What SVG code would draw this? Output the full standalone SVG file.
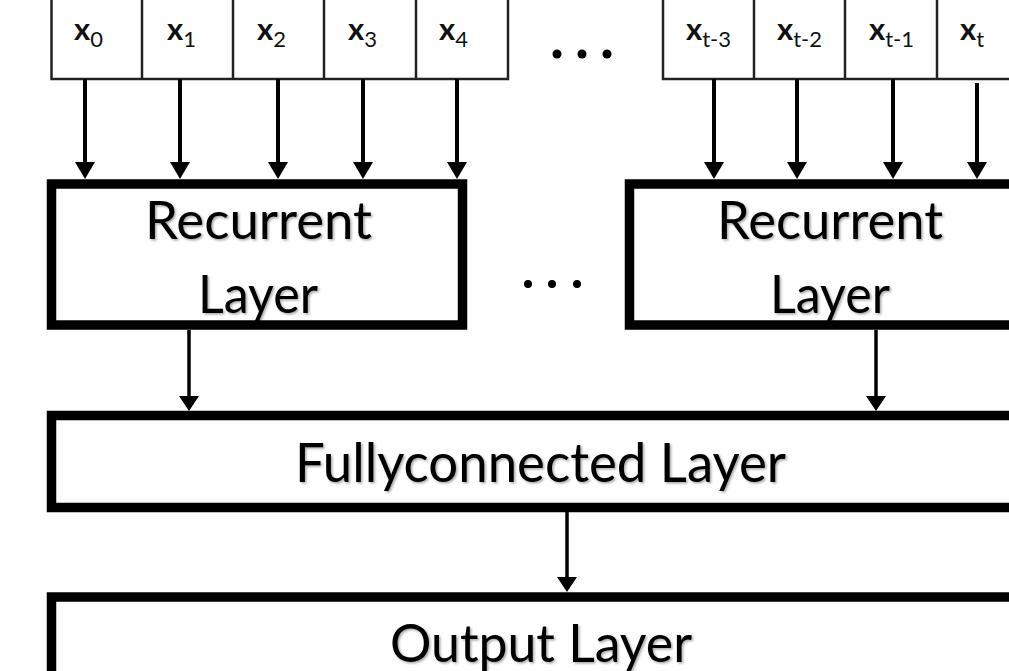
<svg xmlns="http://www.w3.org/2000/svg" width="1009" height="671" viewBox="0 0 1009 671">
<style>
  .cell{fill:#fff;stroke:#222;stroke-width:2.5}
  .div{stroke:#222;stroke-width:2.5}
  .layer{fill:#fff;stroke:#000;stroke-width:9.5}
  .xl{font-family:Lato,"Open Sans",sans-serif;font-weight:bold;font-size:31px;fill:#111}
  .sub{font-weight:normal;font-size:22px}
  .big{font-family:Lato,"Open Sans",sans-serif;font-size:52px;fill:#000;filter:url(#sh)}
  .arr{stroke:#000;fill:none}
  .a4{stroke-width:4;marker-end:url(#ah)}
  .a3{stroke-width:3.5;marker-end:url(#ah2)}
  .dot{fill:#000}
</style>
<defs>
  <filter id="sh" x="-5%" y="-20%" width="110%" height="140%">
    <feDropShadow dx="1.5" dy="1.5" stdDeviation="1.2" flood-color="#000" flood-opacity="0.35"/>
  </filter>
  <marker id="ah" markerUnits="userSpaceOnUse" markerWidth="18" markerHeight="20" refX="9" refY="10" orient="auto">
    <path d="M0,0 L17,10 L0,20 z" fill="#000"/>
  </marker>
  <marker id="ah2" markerUnits="userSpaceOnUse" markerWidth="16" markerHeight="20" refX="8" refY="10" orient="auto">
    <path d="M0,0 L15,10 L0,20 z" fill="#000"/>
  </marker>
</defs>
<rect width="1009" height="671" fill="#fff"/>

<g id="inputs-left">
  <rect class="cell" x="51.5" y="-10" width="456.5" height="89"/>
  <line class="div" x1="142" y1="-10" x2="142" y2="79"/>
  <line class="div" x1="233" y1="-10" x2="233" y2="79"/>
  <line class="div" x1="324" y1="-10" x2="324" y2="79"/>
  <line class="div" x1="416" y1="-10" x2="416" y2="79"/>
  <text class="xl" x="74" y="40">x<tspan class="sub" dy="7">0</tspan></text>
  <text class="xl" x="167" y="40">x<tspan class="sub" dy="7">1</tspan></text>
  <text class="xl" x="257" y="40">x<tspan class="sub" dy="7">2</tspan></text>
  <text class="xl" x="348" y="40">x<tspan class="sub" dy="7">3</tspan></text>
  <text class="xl" x="439" y="40">x<tspan class="sub" dy="7">4</tspan></text>
</g>

<g id="dots-top">
  <circle class="dot" cx="557" cy="54" r="4.5"/>
  <circle class="dot" cx="582" cy="54" r="4.5"/>
  <circle class="dot" cx="607" cy="54" r="4.5"/>
</g>

<g id="inputs-right">
  <rect class="cell" x="663" y="-10" width="380" height="89"/>
  <line class="div" x1="754" y1="-10" x2="754" y2="79"/>
  <line class="div" x1="845" y1="-10" x2="845" y2="79"/>
  <line class="div" x1="937" y1="-10" x2="937" y2="79"/>
  <text class="xl" x="686" y="40">x<tspan class="sub" dy="7">t-3</tspan></text>
  <text class="xl" x="777" y="40">x<tspan class="sub" dy="7">t-2</tspan></text>
  <text class="xl" x="869" y="40">x<tspan class="sub" dy="7">t-1</tspan></text>
  <text class="xl" x="960" y="40">x<tspan class="sub" dy="7">t</tspan></text>
</g>

<g id="recurrent-left">
  <rect class="layer" x="51.5" y="184" width="411" height="141"/>
  <text class="big" x="258.5" y="239" text-anchor="middle" textLength="227" lengthAdjust="spacingAndGlyphs">Recurrent</text>
  <text class="big" x="258" y="313" text-anchor="middle" textLength="120" lengthAdjust="spacingAndGlyphs">Layer</text>
</g>

<g id="dots-mid">
  <circle class="dot" cx="528" cy="284" r="4"/>
  <circle class="dot" cx="552" cy="284" r="4"/>
  <circle class="dot" cx="577" cy="284" r="4"/>
</g>

<g id="recurrent-right">
  <rect class="layer" x="629.5" y="184" width="420" height="141"/>
  <text class="big" x="830" y="239" text-anchor="middle" textLength="226" lengthAdjust="spacingAndGlyphs">Recurrent</text>
  <text class="big" x="830" y="313" text-anchor="middle" textLength="120" lengthAdjust="spacingAndGlyphs">Layer</text>
</g>

<g id="fullyconnected">
  <rect class="layer" x="51.5" y="415.5" width="1000" height="92"/>
  <text class="big" x="295" y="482" textLength="491" lengthAdjust="spacingAndGlyphs" style="font-size:54px">Fullyconnected Layer</text>
</g>

<g id="output">
  <rect class="layer" x="51.5" y="597" width="1000" height="120"/>
  <text class="big" x="390" y="662" textLength="302" lengthAdjust="spacingAndGlyphs" style="font-size:53px">Output Layer</text>
</g>

<g id="connectors">
  <line class="arr a4" x1="85" y1="79" x2="85" y2="171"/>
  <line class="arr a4" x1="180" y1="79" x2="180" y2="171"/>
  <line class="arr a4" x1="278" y1="79" x2="278" y2="171"/>
  <line class="arr a4" x1="363" y1="79" x2="363" y2="171"/>
  <line class="arr a4" x1="457" y1="79" x2="457" y2="171"/>
  <line class="arr a4" x1="714" y1="79" x2="714" y2="171"/>
  <line class="arr a4" x1="797" y1="79" x2="797" y2="171"/>
  <line class="arr a4" x1="893" y1="79" x2="893" y2="171"/>
  <line class="arr a4" x1="977" y1="83" x2="977" y2="171"/>
  <line class="arr a3" x1="189" y1="330" x2="189" y2="404"/>
  <line class="arr a3" x1="876" y1="330" x2="876" y2="404"/>
  <line class="arr a3" x1="567" y1="512" x2="567" y2="585"/>
</g>
</svg>
